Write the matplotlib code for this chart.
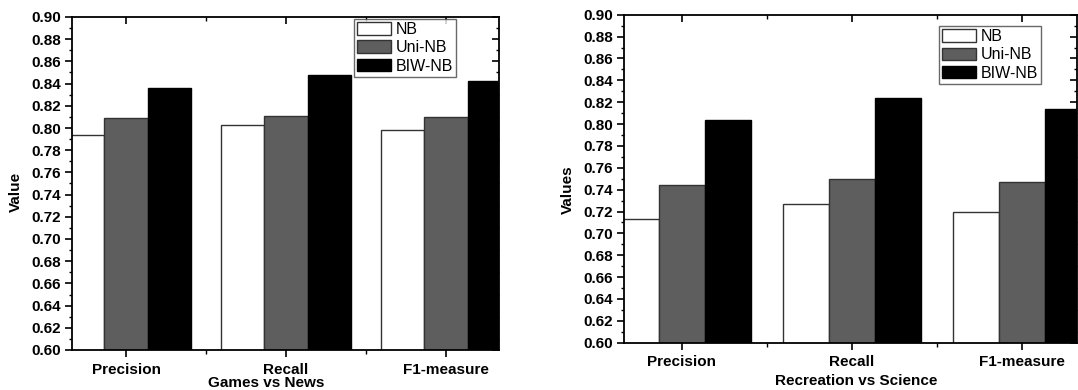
import matplotlib
matplotlib.use("Agg")
import matplotlib.pyplot as plt
import matplotlib.markers as mmarkers
import numpy as np
from matplotlib.ticker import MultipleLocator, FixedLocator, FormatStrFormatter

plt.rcParams['font.family'] = ['Liberation Sans', 'DejaVu Sans']

categories = ["Precision", "Recall", "F1-measure"]
series_names = ["NB", "Uni-NB", "BIW-NB"]

games_nb = [0.794, 0.803, 0.798]
games_uni = [0.809, 0.811, 0.810]
games_biw = [0.836, 0.848, 0.842]

rec_nb = [0.713, 0.727, 0.720]
rec_uni = [0.744, 0.750, 0.747]
rec_biw = [0.804, 0.824, 0.814]

colors = ["#ffffff", "#5e5e5e", "#000000"]
edges = ["#333333", "#333333", "#000000"]

W, H = 1078, 390
fig = plt.figure(figsize=(W / 100, H / 100), dpi=100)

def px_axes(x0, y0, x1, y1):
    return fig.add_axes([x0 / W, 1 - y1 / H, (x1 - x0) / W, (y1 - y0) / H])

ax1 = px_axes(72, 17, 499, 350)
ax2 = px_axes(624.3, 14.7, 1077, 342.7)

FS = 11

def draw(ax, data, xlim, xlabel, ylabel, xlab_pos, ylab_pos, leg_anchor):
    x = np.arange(1, len(categories) + 1)
    w = 0.27
    for i, (vals, c, e, name) in enumerate(zip(data, colors, edges, series_names)):
        ax.bar(x + (i - 1) * w, vals, width=w, color=c, edgecolor=e,
               linewidth=1.0, label=name, zorder=2)
    ax.set_xlim(*xlim)
    ax.set_ylim(0.60, 0.90)
    ax.yaxis.set_major_locator(MultipleLocator(0.02))
    ax.yaxis.set_minor_locator(MultipleLocator(0.01))
    ax.yaxis.set_major_formatter(FormatStrFormatter('%.2f'))
    ax.xaxis.set_major_locator(FixedLocator(x))
    ax.xaxis.set_minor_locator(FixedLocator([1.5, 2.5]))
    ax.set_xticklabels(categories)
    ax.tick_params(axis='y', which='major', direction='out', length=5, width=1.2,
                   labelsize=FS, pad=3, right=True, labelright=False)
    ax.tick_params(axis='y', which='minor', direction='out', length=2.5, width=1.0, right=True)
    ax.tick_params(axis='x', which='major', direction='out', length=5, width=1.2,
                   labelsize=FS, pad=4, top=True)
    ax.tick_params(axis='x', which='minor', direction='out', length=3, width=1.0, top=True)
    for lbl in ax.get_xticklabels() + ax.get_yticklabels():
        lbl.set_fontweight('bold')
    for s in ax.spines.values():
        s.set_linewidth(1.3)
    ax.set_xlabel(xlabel, fontsize=FS, fontweight='bold')
    ax.xaxis.set_label_coords(*xlab_pos)
    ax.set_ylabel(ylabel, fontsize=FS, fontweight='bold')
    ax.yaxis.set_label_coords(*ylab_pos)
    leg = ax.legend(loc='upper left', bbox_to_anchor=leg_anchor, borderaxespad=0,
                    fontsize=11.5, frameon=True, fancybox=False, shadow=False,
                    handlelength=2.1, handleheight=0.85, labelspacing=0.2,
                    handletextpad=0.3, borderpad=0.2)
    leg.get_frame().set_edgecolor('#444444')
    leg.get_frame().set_linewidth(1.0)
    # top/right ticks inward
    for t in ax.xaxis.get_major_ticks() + ax.xaxis.get_minor_ticks():
        t.tick2line.set_marker(mmarkers.TICKDOWN)
    for t in ax.yaxis.get_major_ticks() + ax.yaxis.get_minor_ticks():
        t.tick2line.set_marker(mmarkers.TICKLEFT)

draw(ax1, [games_nb, games_uni, games_biw], (0.6625, 3.331),
     "Games vs News", "Value", (0.454, -0.078), (-0.114, 0.475), (0.660, 0.994))
draw(ax2, [rec_nb, rec_uni, rec_biw], (0.662, 3.325),
     "Recreation vs Science", "Values", (0.512, -0.095), (-0.109, 0.466), (0.695, 0.9655))

fig.savefig("out.png", dpi=100)
